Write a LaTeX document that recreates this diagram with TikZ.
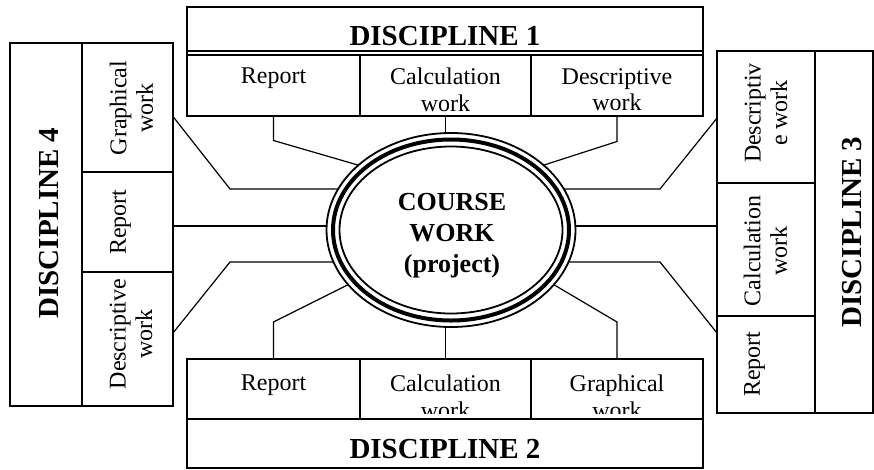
\documentclass[tikz,border=0pt]{standalone}
\usepackage{fontspec}
\setmainfont{Liberation Serif}
\usetikzlibrary{calc,shapes.geometric}
\begin{document}
\begin{tikzpicture}[x=1pt,y=-1pt,
  frame/.style={draw, line width=1.6pt},
  cellbox/.style={draw, line width=1.6pt, inner sep=0pt, outer sep=0pt},
  conn/.style={line width=1.2pt},
  celltext/.style={inner sep=0pt, align=center, font=\fontsize{24}{26.5}\selectfont},
  titletext/.style={inner sep=0pt, font=\fontsize{29}{30}\selectfont\bfseries},
  coursetext/.style={inner sep=0pt, align=center, font=\fontsize{26}{31}\selectfont\bfseries},
  ring/.style={draw, ellipse, inner sep=0pt, outer sep=0pt}]
\useasboundingbox (0,0) rectangle (874,469);

% ---------- DISCIPLINE 1 (top)
\node[cellbox, minimum width=516pt, minimum height=44pt] (t1) at (445,29) {};
\node[cellbox, minimum width=173pt, minimum height=61pt] (c11) at (273.5,85.5) {};
\node[cellbox, minimum width=171pt, minimum height=61pt] (c12) at (445.5,85.5) {};
\node[cellbox, minimum width=172pt, minimum height=61pt] (c13) at (617,85.5) {};
\draw[frame] (t1.north west) rectangle (c13.south east);
\node[titletext, anchor=base] (n1) at (445,45) {DISCIPLINE 1};
\node[celltext, anchor=north] (x11) at (273.5,68) {Report};
\node[celltext, anchor=north] (x12) at (445.5,68) {Calculation\\work};
\node[celltext, anchor=north] (x13) at (617,68) {Descriptive\\work};

% ---------- DISCIPLINE 2 (bottom)
\begin{scope}
  \clip (187,359) rectangle (703,413.5);
  \node[celltext, anchor=north] (x21) at (273.5,375) {Report};
  \node[celltext, anchor=north] (x22) at (445.5,375) {Calculation\\work};
  \node[celltext, anchor=north] (x23) at (617,375) {Graphical\\work};
\end{scope}
\node[cellbox, minimum width=173pt, minimum height=60pt] (c21) at (273.5,389) {};
\node[cellbox, minimum width=171pt, minimum height=60pt] (c22) at (445.5,389) {};
\node[cellbox, minimum width=172pt, minimum height=60pt] (c23) at (617,389) {};
\node[cellbox, minimum width=516pt, minimum height=49pt] (t2) at (445,443.5) {};
\draw[frame] (c21.north west) rectangle (t2.south east);
\node[titletext, anchor=base] (n2) at (445,458) {DISCIPLINE 2};

% ---------- DISCIPLINE 4 (left)
\node[cellbox, minimum width=72pt, minimum height=363pt] (t4) at (46,224.5) {};
\node[cellbox, minimum width=91pt, minimum height=129pt] (d41) at (127.5,107.5) {};
\node[cellbox, minimum width=91pt, minimum height=100pt] (d42) at (127.5,222) {};
\node[cellbox, minimum width=91pt, minimum height=134pt] (d43) at (127.5,339) {};
\draw[frame] (t4.north west) rectangle (d43.south east);
\node[titletext, rotate=90, anchor=base] (n4) at (58.3,223) {DISCIPLINE 4};
\node[celltext, rotate=90, anchor=north] (x41) at (109.5,108) {Graphical\\work};
\node[celltext, rotate=90, anchor=north] (x42) at (110,222) {Report};
\node[celltext, rotate=90, anchor=north] (x43) at (109.5,334) {Descriptive\\work};

% ---------- DISCIPLINE 3 (right)
\node[cellbox, minimum width=98pt, minimum height=132pt] (d31) at (766,117) {};
\node[cellbox, minimum width=98pt, minimum height=133pt] (d32) at (766,249.5) {};
\node[cellbox, minimum width=98pt, minimum height=97pt] (d33) at (766,364.5) {};
\node[cellbox, minimum width=58pt, minimum height=362pt] (t3) at (844,232) {};
\draw[frame] (d31.north west) rectangle (t3.south east);
\node[titletext, rotate=90, anchor=base] (n3) at (861.7,232) {DISCIPLINE 3};
\node[celltext, rotate=90, anchor=north] (x31) at (744.5,113) {Descriptiv\\e work};
\node[celltext, rotate=90, anchor=north] (x32) at (743.5,251) {Calculation\\work};
\node[celltext, rotate=90, anchor=north] (x33) at (744,364) {Report};

% ---------- centre
\node[ring, line width=1.8pt, minimum width=249pt, minimum height=194pt] (ell) at (451,230) {};
\node[ring, line width=4pt, minimum width=236pt, minimum height=181pt] (ellm) at (451,230) {};
\node[ring, line width=1.8pt, minimum width=223pt, minimum height=167pt] (elli) at (451,230) {};
\node[coursetext, anchor=north] (ctext) at (452,193) {COURSE\\WORK\\(project)};

% ---------- connectors
\coordinate (bt1) at (273.5,140.5);
\coordinate (bt3) at (617,141.5);
\draw[conn] (c11.south) -- (bt1) -- (ell.145);
\draw[conn] (c12.south) -- (c12.south |- ell.north);
\draw[conn] (c13.south) -- (bt3) -- (ell.35);

\coordinate (bb1) at (273.5,322);
\coordinate (bb3) at (617,322);
\draw[conn] (c21.north) -- (bb1) -- (ell.208);
\draw[conn] (c22.north) -- (c22.north |- ell.south);
\draw[conn] (c23.north) -- (bb3) -- (ell.332);

\coordinate (sl1) at ($(d41.north east)!0.57!(d41.south east)$);
\coordinate (sl2) at ($(d42.north east)!0.54!(d42.south east)$);
\coordinate (sl3) at ($(d43.north east)!0.455!(d43.south east)$);
\coordinate (bl1) at (230,189);
\coordinate (bl3) at (230,262);
\draw[conn] (sl1) -- (bl1) -- (bl1 -| ell.160);
\draw[conn] (sl2) -- (sl2 -| ell.west);
\draw[conn] (sl3) -- (bl3) -- (bl3 -| ell.195);

\coordinate (sr1) at ($(d31.north west)!0.508!(d31.south west)$);
\coordinate (sr2) at ($(d32.north west)!0.323!(d32.south west)$);
\coordinate (sr3) at ($(d33.north west)!0.175!(d33.south west)$);
\coordinate (br1) at (660,189);
\coordinate (br3) at (660,262);
\draw[conn] (sr1) -- (br1) -- (br1 -| ell.20);
\draw[conn] (sr2) -- (sr2 -| ell.east);
\draw[conn] (sr3) -- (br3) -- (br3 -| ell.345);
\end{tikzpicture}
\end{document}
